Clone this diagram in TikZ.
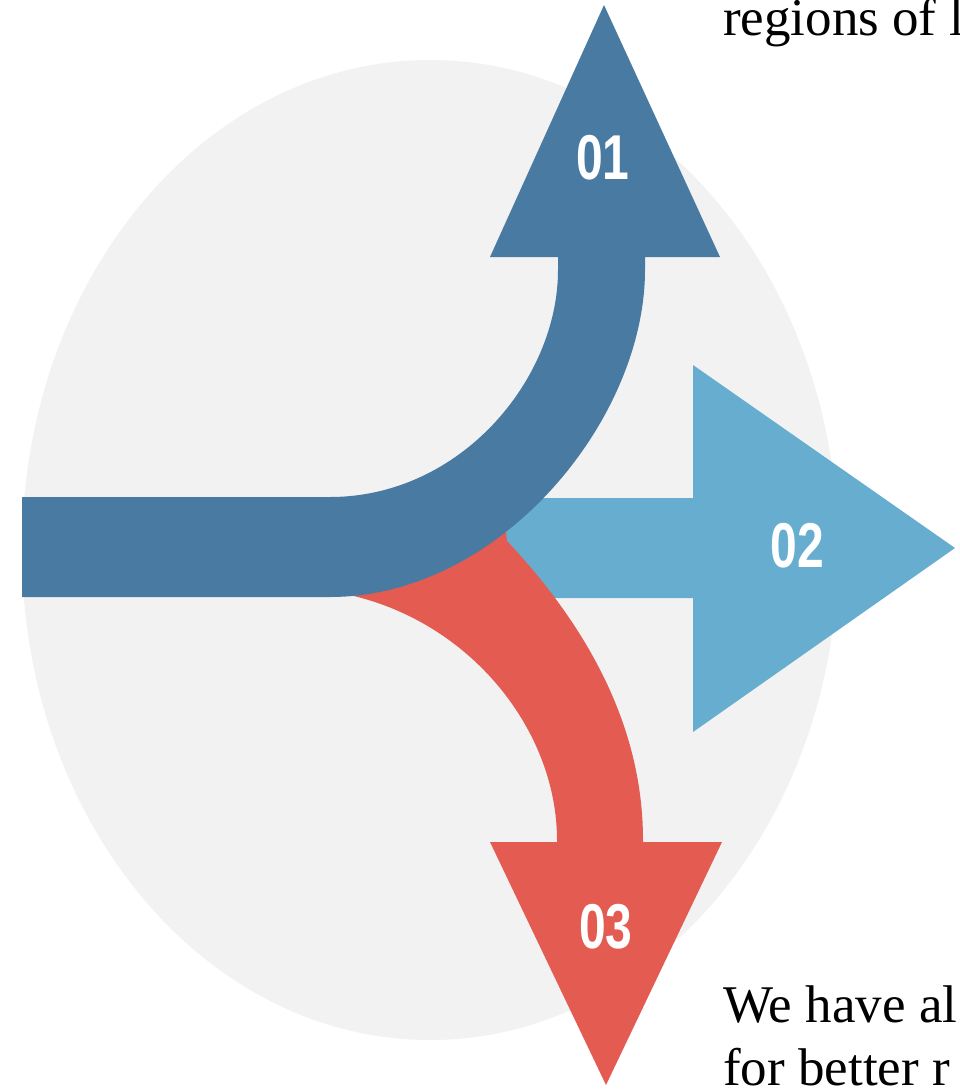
\documentclass[tikz,border=0pt]{standalone}
\usepackage{fontspec}
\setmainfont{Liberation Serif}
\newfontfamily\numfont{Liberation Sans}
\usepackage{graphicx}
\definecolor{darkblue}{RGB}{73,122,162}
\definecolor{lightblue}{RGB}{102,173,207}
\definecolor{redarrow}{RGB}{227,91,81}
\definecolor{disc}{RGB}{242,242,242}
\tikzset{
  num/.style={text=white, font=\numfont\bfseries\fontsize{48}{48}\selectfont, inner sep=0pt},
  prose/.style={anchor=base west, inner sep=0pt, text=black, font=\fontsize{53}{53}\selectfont}
}
\begin{document}
\begin{tikzpicture}[x=1pt,y=-1pt]
\useasboundingbox (0,0) rectangle (960,1090);
\fill[white] (0,0) rectangle (960,1090);
% background disc
\fill[disc] (430,550) ellipse [x radius=408, y radius=490];
% arrow 02 (light blue)
\fill[lightblue] (480,498) -- (693,498) -- (693,365) -- (955,548) -- (693,732) -- (693,598) -- (480,598) -- cycle;
% arrow 03 (red)
\fill[redarrow] (345,594) .. controls (470,620) and (557,730) .. (557,840) -- (557,842) -- (490,842) -- (606,1085) -- (722,842) -- (643,842) -- (643,840) .. controls (643,740) and (600,640) .. (507,541) -- (505,525) -- (340,560) -- cycle;
% arrow 01 (dark blue)
\fill[darkblue] (22,497) -- (330,497) .. controls (460,497) and (558,380) .. (558,270) -- (558,257) -- (490,257) -- (604,5) -- (720,257) -- (645,257) -- (645,270) .. controls (645,420) and (500,597) .. (330,597) -- (22,597) -- cycle;
% labels
\node[num] (n01) at (603,158) {\scalebox{1}[1.32]{01}};
\node[num] (n02) at (797,546) {\scalebox{1}[1.32]{02}};
\node[num] (n03) at (606,927) {\scalebox{1}[1.32]{03}};
% prose fragments
\node[prose] (t1) at (723,35) {regions of l};
\node[prose] (t2) at (723,1022) {We have al};
\node[prose] (t3) at (723,1085) {for better r};
\end{tikzpicture}
\end{document}
